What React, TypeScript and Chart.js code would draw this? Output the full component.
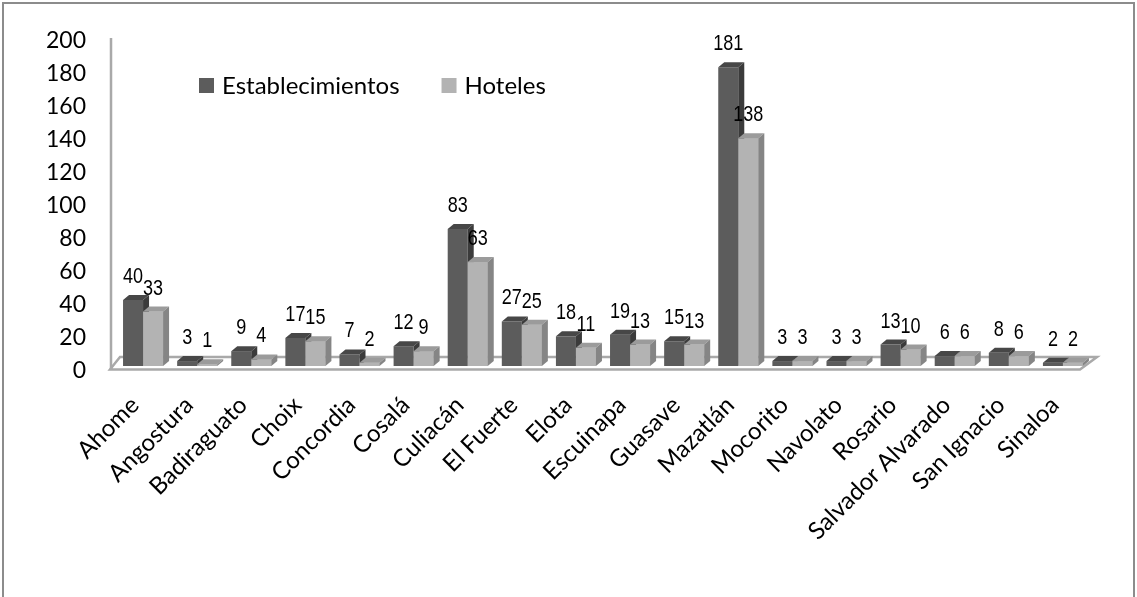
import React, { useEffect, useRef } from 'react';
import { Chart, registerables } from 'chart.js';

Chart.register(...registerables);

const categories = [
  'Ahome', 'Angostura', 'Badiraguato', 'Choix', 'Concordia', 'Cosalá', 'Culiacán', 'El Fuerte', 'Elota',
  'Escuinapa', 'Guasave', 'Mazatlán', 'Mocorito', 'Navolato', 'Rosario', 'Salvador Alvarado', 'San Ignacio', 'Sinaloa',
];
const establecimientos = [40, 3, 9, 17, 7, 12, 83, 27, 18, 19, 15, 181, 3, 3, 13, 6, 8, 2];
const hoteles = [33, 1, 4, 15, 2, 9, 63, 25, 11, 13, 13, 138, 3, 3, 10, 6, 6, 2];
const seriesNames = ['Establecimientos', 'Hoteles'];
const yMin = 0;
const yMax = 200;
const yStep = 20;

const FRONT = ['#5c5c5c', '#b3b3b3'];
const TOP = ['#474747', '#9b9b9b'];
const SIDE = ['#3b3b3b', '#858585'];
const DX = 6;
const DY = -5;
const FONT = 'Lato, "Open Sans", sans-serif';

function drawTopSide(ctx: any, el: any, i: number) {
  const { x, y, base, width } = el.getProps(['x', 'y', 'base', 'width'], true);
  const l = x - width / 2;
  const r = x + width / 2;
  ctx.fillStyle = TOP[i];
  ctx.beginPath();
  ctx.moveTo(l, y);
  ctx.lineTo(l + DX, y + DY);
  ctx.lineTo(r + DX, y + DY);
  ctx.lineTo(r, y);
  ctx.closePath();
  ctx.fill();
  ctx.fillStyle = SIDE[i];
  ctx.beginPath();
  ctx.moveTo(r, y);
  ctx.lineTo(r + DX, y + DY);
  ctx.lineTo(r + DX, base + DY);
  ctx.lineTo(r, base);
  ctx.closePath();
  ctx.fill();
}

function drawFront(ctx: any, el: any, i: number) {
  const { x, y, base, width } = el.getProps(['x', 'y', 'base', 'width'], true);
  ctx.fillStyle = FRONT[i];
  ctx.fillRect(x - width / 2, y, width, base - y);
}

const excel3d = {
  id: 'excel3d',
  beforeDatasetsDraw(chart: any) {
    const { ctx, chartArea: a } = chart;
    ctx.save();
    ctx.strokeStyle = '#a9a9a9';
    ctx.lineWidth = 2.5;
    ctx.lineJoin = 'miter';
    ctx.beginPath();
    ctx.moveTo(a.left - 6, a.bottom + 3.5);
    ctx.lineTo(a.right - 10, a.bottom + 3.5);
    ctx.lineTo(a.right + 7, a.bottom - 9);
    ctx.lineTo(a.left + 4, a.bottom - 9);
    ctx.closePath();
    ctx.stroke();
    ctx.beginPath();
    ctx.moveTo(a.left - 5, a.top + 2);
    ctx.lineTo(a.left - 5, a.bottom + 3.5);
    ctx.stroke();
    ctx.restore();
  },
  afterDatasetsDraw(chart: any) {
    const { ctx } = chart;
    const m0 = chart.getDatasetMeta(0);
    const m1 = chart.getDatasetMeta(1);
    ctx.save();
    m0.data.forEach((el0: any, j: number) => {
      const el1 = m1.data[j];
      drawTopSide(ctx, el0, 0);
      drawFront(ctx, el1, 1);
      drawTopSide(ctx, el1, 1);
    });
    ctx.restore();
  },
  afterDraw(chart: any) {
    const { ctx, chartArea: a } = chart;
    ctx.save();
    // data labels
    chart.data.datasets.forEach((ds: any, di: number) => {
      const meta = chart.getDatasetMeta(di);
      meta.data.forEach((el: any, j: number) => {
        const { x, y } = el.getProps(['x', 'y'], true);
        ctx.save();
        ctx.translate(x, y - 17);
        ctx.scale(0.82, 1);
        ctx.font = '22px "Liberation Sans", Arial, sans-serif';
        ctx.fillStyle = '#000';
        ctx.textAlign = 'center';
        ctx.textBaseline = 'alphabetic';
        ctx.fillText(String(ds.data[j]), 0, 0);
        ctx.restore();
      });
    });
    // legend
    ctx.font = '24px ' + FONT;
    ctx.textBaseline = 'alphabetic';
    ctx.textAlign = 'left';
    let lx = a.left + 83;
    const ly = a.top + 42;
    seriesNames.forEach((name, k) => {
      ctx.fillStyle = FRONT[k];
      ctx.fillRect(lx, ly, 15, 15);
      ctx.fillStyle = '#000';
      ctx.fillText(name, lx + 23, ly + 16);
      lx += 23 + ctx.measureText(name).width + 42;
    });
    ctx.restore();
  },
};

export default function App() {
  const ref = useRef<HTMLCanvasElement | null>(null);
  useEffect(() => {
    if (!ref.current) return;
    const chart = new Chart(ref.current, {
      type: 'bar',
      data: {
        labels: categories,
        datasets: [
          { label: seriesNames[0], data: establecimientos, backgroundColor: FRONT[0], borderWidth: 0 },
          { label: seriesNames[1], data: hoteles, backgroundColor: FRONT[1], borderWidth: 0 },
        ],
      },
      options: {
        responsive: false,
        animation: false,
        events: [],
        layout: { padding: { left: 0, right: 47, top: 36, bottom: 0 } },
        datasets: { bar: { categoryPercentage: 0.74, barPercentage: 1.0 } },
        plugins: { legend: { display: false }, tooltip: { enabled: false }, title: { display: false } },
        scales: {
          x: {
            grid: { display: false, drawTicks: false },
            border: { display: false },
            afterFit: (s: any) => { s.height = 231; },
            ticks: {
              autoSkip: false,
              minRotation: 45,
              maxRotation: 45,
              padding: 25,
              labelOffset: -8,
              color: '#000',
              font: { family: FONT, size: 24 },
            },
          },
          y: {
            min: yMin,
            max: yMax,
            grid: { display: false, drawTicks: false },
            border: { display: false },
            afterFit: (s: any) => { s.width = 116; s.paddingTop = 0; s.paddingBottom = 0; },
            ticks: {
              stepSize: yStep,
              padding: 30,
              labelOffset: 5,
              color: '#000',
              font: { family: FONT, size: 23 },
            },
          },
        },
      },
      plugins: [excel3d],
    });
    return () => chart.destroy();
  }, []);
  return (
    <div style={{ position: 'absolute', left: 0, top: 0, width: 1137, height: 597, overflow: 'hidden', background: '#fff' }}>
      <canvas ref={ref} width={1137} height={597} style={{ position: 'absolute', left: 0, top: 0 }} />
      <div style={{ position: 'absolute', left: 2, top: 2, width: 1129, height: 640, border: '2px solid #8c8c8c' }} />
    </div>
  );
}
